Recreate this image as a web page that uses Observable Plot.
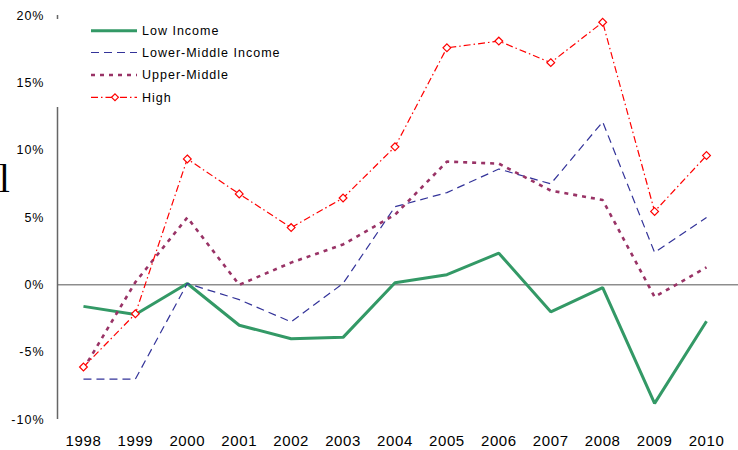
<!DOCTYPE html>
<html><head><meta charset="utf-8">
<script src="https://cdn.jsdelivr.net/npm/d3@7"></script>
<script src="https://cdn.jsdelivr.net/npm/@observablehq/plot@0.6"></script>
<style>
body{margin:0;background:#fff;}
#wrap{position:relative;width:738px;height:450px;overflow:hidden;font-family:"Liberation Sans",Arial,sans-serif;}
#wrap svg{display:block;}
#overlay{position:absolute;left:0;top:0;pointer-events:none;}
#wrap g[aria-label="x-axis tick label"] text{letter-spacing:0.6px;}
#wrap g[aria-label="y-axis tick label"] text{letter-spacing:1px;}
</style></head><body><div id="wrap"></div>
<script>
const years = [1998,1999,2000,2001,2002,2003,2004,2005,2006,2007,2008,2009,2010];
const lowIncome   = [-1.6,-2.2,0.1,-3.0,-4.0,-3.9,0.15,0.75,2.35,-2.0,-0.2,-8.8,-2.7];
const lowerMiddle = [-7.0,-7.0,0.1,-1.1,-2.75,0.1,5.8,6.85,8.6,7.5,12.1,2.4,5.0];
const upperMiddle = [-6.25,0.2,5.0,0.0,1.65,3.0,5.2,9.15,9.0,7.0,6.3,-0.9,1.3];
const high        = [-6.1,-2.15,9.35,6.75,4.25,6.45,10.25,17.6,18.1,16.5,19.5,5.45,9.6];
const seriesNames = ["Low Income","Lower-Middle Income","Upper-Middle","High"];
const yTicks = [-10,-5,0,5,10,15,20];

const styles = [
  {stroke:"#339966", strokeWidth:3, dash:null},
  {stroke:"#333399", strokeWidth:1.2, dash:"8,5"},
  {stroke:"#993366", strokeWidth:2.6, dash:"4,5"},
  {stroke:"#ff0000", strokeWidth:1.2, dash:"7,3,1.5,3"}
];
const allValues = [lowIncome, lowerMiddle, upperMiddle, high];
const tables = allValues.map((vals, k) => years.map((y, i) => ({year: y, value: vals[i], series: seriesNames[k]})));

const lineMarks = tables.map((t, k) => Plot.line(t, {
  x: "year", y: "value", stroke: styles[k].stroke, strokeWidth: styles[k].strokeWidth,
  strokeDasharray: styles[k].dash || undefined, strokeLinejoin: "miter", strokeLinecap: "butt"
}));

const chart = Plot.plot({
  width: 738, height: 450,
  marginLeft: 57, marginRight: 0, marginTop: 15, marginBottom: 31,
  style: {fontFamily: '"Liberation Sans", Arial, sans-serif', color: "#000", background: "#fff"},
  x: {domain: [1997.5, 2010.616]},
  y: {domain: [-10, 20]},
  marks: [
    Plot.ruleY([0], {stroke: "#555", strokeWidth: 1}),
    Plot.ruleX([1997.5], {stroke: "#666", strokeWidth: 1.5}),
    Plot.axisY(yTicks, {tickSize: 0, tickPadding: 13, tickFormat: d => `${d}%`, fontSize: 12.5, label: null}),
    Plot.axisX(years, {tickSize: 0, tickPadding: 16, tickFormat: d => String(d), fontSize: 15, label: null}),
    ...lineMarks,
    Plot.dot(tables[3], {x: "year", y: "value", symbol: "diamond2", r: 3.5, stroke: "#ff0000", fill: "white", strokeWidth: 1.2})
  ]
});
document.getElementById("wrap").appendChild(chart);

// overlay: legend + stray glyph
const ov = d3.select("#wrap").append("svg").attr("id", "overlay").attr("width", 738).attr("height", 450);
ov.append("text").attr("x", -1).attr("y", 192).attr("font-family", '"Liberation Serif", serif').attr("font-size", 39).text("l");
const lg = ov.append("g");
lg.append("rect").attr("x", 50).attr("y", 19).attr("width", 250).attr("height", 88).attr("fill", "#fff");
const rowY = [30.7, 52.5, 75, 97.3];
seriesNames.forEach((name, k) => {
  const s = styles[k];
  lg.append("line").attr("x1", 91).attr("x2", 137).attr("y1", rowY[k]).attr("y2", rowY[k])
    .attr("stroke", s.stroke).attr("stroke-width", s.strokeWidth).attr("stroke-dasharray", s.dash);
  if (k === 3) {
    lg.append("path").attr("d", d3.symbol(d3.symbolDiamond2, 30)()).attr("transform", `translate(115,${rowY[k]})`)
      .attr("fill", "#fff").attr("stroke", "#ff0000").attr("stroke-width", 1.2);
  }
  lg.append("text").attr("x", 142).attr("y", rowY[k]).attr("dy", "0.35em")
    .attr("font-family", '"Liberation Sans", Arial, sans-serif').attr("font-size", 12.5)
    .attr("letter-spacing", "1px").text(name);
});
</script></body></html>
